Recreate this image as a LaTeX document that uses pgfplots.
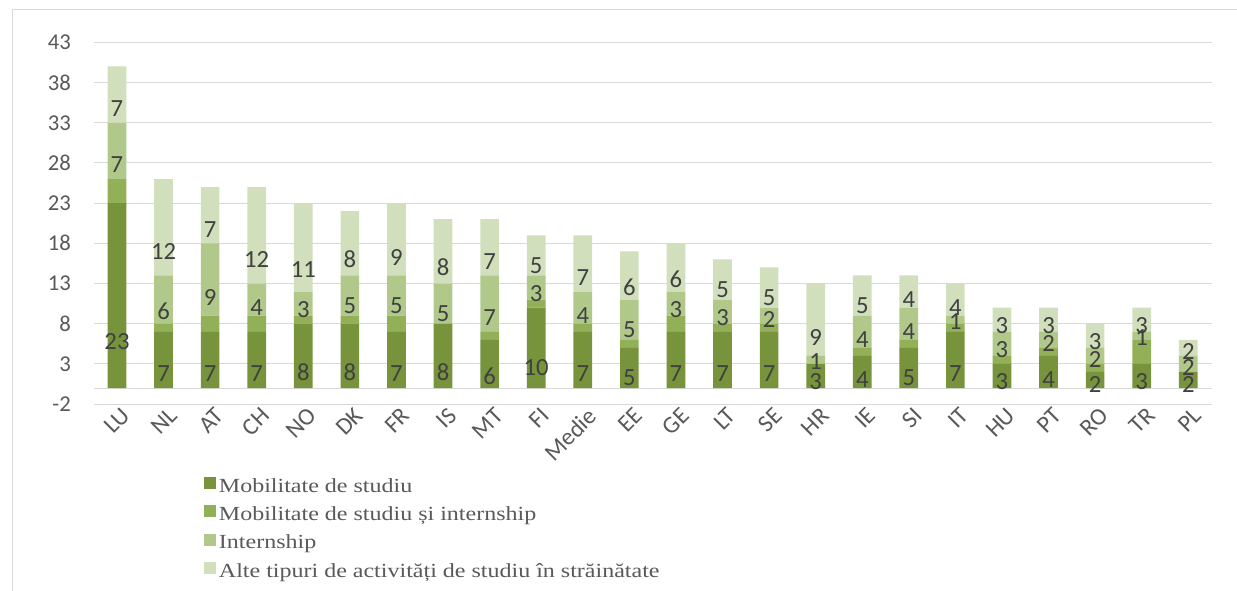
\documentclass[border=0pt]{standalone}
\usepackage{pgfplots}
\pgfplotsset{compat=1.18}
\usepackage{pgfplotstable}
\usepackage{fontspec}
\setmainfont{Liberation Serif}
\newfontfamily\carl{Carlito}
\newfontfamily\legfont[FakeStretch=1.2]{Liberation Serif}
\definecolor{cA}{HTML}{77933C}
\definecolor{cB}{HTML}{92B057}
\definecolor{cC}{HTML}{B0C98A}
\definecolor{cD}{HTML}{D1DFBC}
\definecolor{gridc}{HTML}{D9D9D9}
\definecolor{tickc}{HTML}{595959}
\definecolor{labc}{HTML}{404040}

\pgfplotstableread{
x name s1 s2 s3 s4
0 LU 23 3 7 7
1 NL 7 1 6 12
2 AT 7 2 9 7
3 CH 7 2 4 12
4 NO 8 1 3 11
5 DK 8 1 5 8
6 FR 7 2 5 9
7 IS 8 0 5 8
8 MT 6 1 7 7
9 FI 10 1 3 5
10 Medie 7 1 4 7
11 EE 5 1 5 6
12 GE 7 2 3 6
13 LT 7 1 3 5
14 SE 7 1 2 5
15 HR 3 0 1 9
16 IE 4 1 4 5
17 SI 5 1 4 4
18 IT 7 1 1 4
19 HU 3 1 3 3
20 PT 4 1 2 3
21 RO 2 1 2 3
22 TR 3 3 1 3
23 PL 2 0 2 2
}\data

\begin{document}
\begin{tikzpicture}
\path[use as bounding box] (0,0) rectangle (927.75pt,443.25pt);
\draw[gridc, line width=0.75pt] (9pt,0) -- (9pt,435.75pt) -- (927.75pt,435.75pt);
\begin{axis}[
  at={(70.28pt,140.17pt)}, anchor=south west,
  scale only axis, width=838.4pt, height=271.3pt,
  ybar stacked, bar width=14pt,
  xmin=-0.5, xmax=23.5, ymin=-2, ymax=43,
  ytick={-2,3,...,43},
  extra y ticks={0}, extra y tick labels={},
  extra y tick style={grid=major},
  xtick={0,...,23},
  xticklabels from table={\data}{name},
  ymajorgrids, grid style={gridc, line width=0.75pt},
  axis line style={draw=none},
  major tick length=0pt,
  tick style={draw=none},
  /pgf/number format/assume math mode=true,
  yticklabel style={font=\carl\fontsize{17}{18}\selectfont, text=tickc, anchor=east, inner sep=0pt, xshift=-17pt},
  xticklabel style={font=\carl\fontsize{18}{19}\selectfont, text=tickc, rotate=45, anchor=north east, inner sep=1pt, xshift=2pt, yshift=-2pt},
  legend style={at={(0.0951,-0.193)}, anchor=north west, draw=none, fill=none,
    font=\legfont\fontsize{15}{17}\selectfont, text=tickc, row sep=6.3pt,
    nodes={inner xsep=2pt, inner ysep=0pt, text height=10.5pt, text depth=3.5pt}},
  legend cell align=left,
  legend image code/.code={\fill[#1] (0pt,-1pt) rectangle (9pt,8pt);},
  every node near coord/.append style={font=\carl\fontsize{18.5}{19}\selectfont, text=labc, anchor=center},
]
\addplot[fill=cA, draw=none, nodes near coords, point meta=explicit,
  visualization depends on={\thisrow{s1} \as \rawy},
  every node near coord/.append style={yshift={-1.5072pt*\rawy}}]
  table[x=x, y=s1, meta=s1] {\data};
\addplot[fill=cB, draw=none] table[x=x, y=s2] {\data};
\addplot[fill=cC, draw=none, nodes near coords, point meta=explicit,
  visualization depends on={\thisrow{s3} \as \rawy},
  every node near coord/.append style={yshift={-1.5072pt*\rawy}}]
  table[x=x, y=s3, meta=s3] {\data};
\addplot[fill=cD, draw=none, nodes near coords, point meta=explicit,
  visualization depends on={\thisrow{s4} \as \rawy},
  every node near coord/.append style={yshift={-1.5072pt*\rawy}}]
  table[x=x, y=s4, meta=s4] {\data};
\legend{Mobilitate de studiu, Mobilitate de studiu și internship, Internship, Alte tipuri de activități de studiu în străinătate}
\end{axis}
\end{tikzpicture}
\end{document}
